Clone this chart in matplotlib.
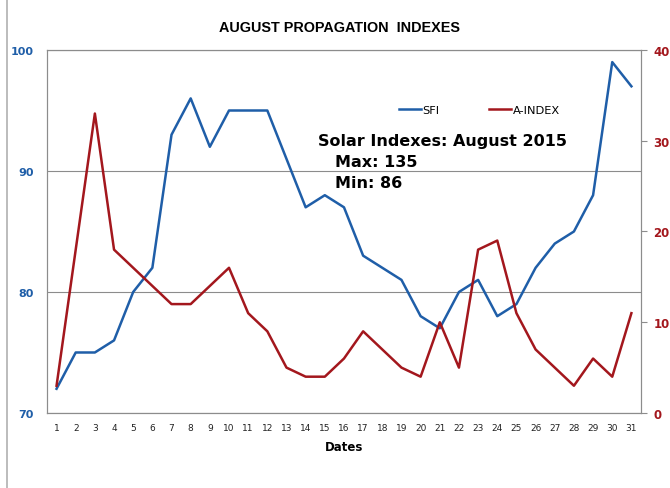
import matplotlib.pyplot as plt
from matplotlib.lines import Line2D

# Daily solar indexes, August 2015
days = list(range(1, 32))
sfi = [72, 75, 75, 76, 80, 82, 93, 96, 92, 95, 95, 95, 91, 87, 88, 87,
       83, 82, 81, 78, 77, 80, 81, 78, 79, 82, 84, 85, 88, 99, 97]
a_index = [3, 18, 33, 18, 16, 14, 12, 12, 14, 16, 11, 9, 5, 4, 4, 6,
           9, 7, 5, 4, 10, 5, 18, 19, 11, 7, 5, 3, 6, 4, 11]
left_ticks = [70, 80, 90, 100]
right_ticks = [0, 10, 20, 30, 40]

blue = '#1F5EA8'
red = '#A3171D'
frame = '#8C8C8C'

fig = plt.figure(figsize=(6.7, 4.89), dpi=100)
ax = fig.add_axes([0.0701, 0.1534, 0.8866, 0.7423])
ax2 = ax.twinx()

ax.plot(days, sfi, color=blue, lw=1.8, label='SFI')
ax2.plot(days, a_index, color=red, lw=1.8, label='A-INDEX')

ax.set_xlim(0.5, 31.5)
ax.set_ylim(70, 100)
ax2.set_ylim(0, 40)
ax.set_xticks(days)
ax.set_xticklabels([str(d) for d in days], fontsize=6.5, color='#222222')
ax.tick_params(axis='x', length=0, pad=7)

ax.set_yticks(left_ticks)
ax.set_yticklabels([str(v) for v in left_ticks], color=blue, fontsize=8,
                   fontweight='bold')
ax.tick_params(axis='y', length=0, pad=9.5)
ax2.set_yticks(right_ticks)
ax2.set_yticklabels([str(v) for v in right_ticks], color=red, fontsize=8.5,
                    fontweight='bold')
ax2.tick_params(axis='y', length=4, width=0.8, color=frame, pad=5)

ax.grid(axis='y', color=frame, lw=0.8)
ax.set_axisbelow(True)
for a in (ax, ax2):
    for s in a.spines.values():
        s.set_color(frame)
        s.set_linewidth(0.8)

ax.set_xlabel('Dates', fontsize=8.5, fontweight='bold', labelpad=6)

fig.text(0.507, 0.943, 'AUGUST PROPAGATION  INDEXES', ha='center', va='center',
         fontsize=10.4, fontweight='bold', family='Liberation Sans')

# legend
handles = [Line2D([], [], color=blue, lw=1.8), Line2D([], [], color=red, lw=1.8)]
fig.legend(handles, ['SFI', 'A-INDEX'], loc='center', bbox_to_anchor=(0.715, 0.773),
           ncol=2, frameon=False, fontsize=8.2, handlelength=2.0,
           handletextpad=0.1, columnspacing=4.3)

# annotation block
fig.text(0.474, 0.711, 'Solar Indexes: August 2015', fontsize=11.5,
         fontweight='bold', va='center')
fig.text(0.5, 0.668, 'Max: 135', fontsize=11.5, fontweight='bold', va='center')
fig.text(0.5, 0.624, 'Min: 86', fontsize=11.5, fontweight='bold', va='center')

# left border of the chart area
fig.add_artist(Line2D([0.0105, 0.0105], [0.0, 1.0], color='#B0B0B0', lw=1.2))

fig.savefig('out.png', dpi=100)
